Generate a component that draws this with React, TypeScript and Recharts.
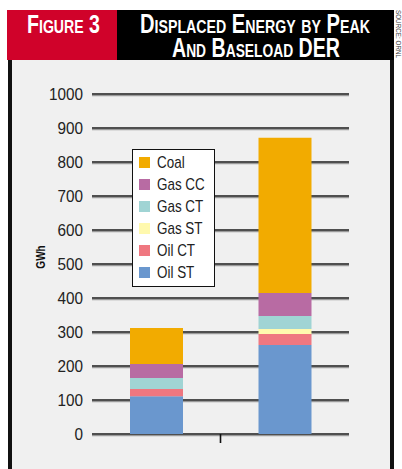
import React from "react";
import { BarChart, Bar, XAxis, YAxis, CartesianGrid, Legend } from "recharts";

const categories = ["Peak DER", "Baseload DER"];
const oilST = [111, 262];
const oilCT = [21, 32];
const gasST = [0, 15];
const gasCT = [33, 38];
const gasCC = [41, 68];
const coal = [106, 456];
const yTicks = [0, 100, 200, 300, 400, 500, 600, 700, 800, 900, 1000];

const series = [
  { key: "oilST", name: "Oil ST", values: oilST, color: "#6a97ce" },
  { key: "oilCT", name: "Oil CT", values: oilCT, color: "#ef7780" },
  { key: "gasST", name: "Gas ST", values: gasST, color: "#fff9ae" },
  { key: "gasCT", name: "Gas CT", values: gasCT, color: "#a0d4d4" },
  { key: "gasCC", name: "Gas CC", values: gasCC, color: "#b86ba3" },
  { key: "coal", name: "Coal", values: coal, color: "#f2ab00" },
];

const data = categories.map((category, i) => {
  const row: Record<string, string | number> = { category };
  series.forEach((s) => (row[s.key] = s.values[i]));
  return row;
});

const SANS = '"Liberation Sans", Arial, Helvetica, sans-serif';

function BoundaryTick(props: any) {
  const { x, y, payload, index } = props;
  if (index !== 0) return <g />;
  const bx = x + (payload.offset ?? 0);
  return <line x1={bx} x2={bx} y1={y} y2={y + 9} stroke="#111" strokeWidth={1.6} />;
}

// condensed look: Liberation Sans squeezed horizontally
function NarrowTick(props: any) {
  const { x, y, payload } = props;
  return (
    <text transform={`translate(${x},${y}) scale(0.9,1)`} textAnchor="end" dy="0.36em"
      fill="#222" fontSize={17} fontFamily={SANS}>
      {payload.value}
    </text>
  );
}

function AxisTitle(props: any) {
  const { viewBox } = props;
  const cx = viewBox.x + 40;
  const cy = viewBox.y + viewBox.height / 2 - 7;
  return (
    <text transform={`translate(${cx},${cy}) rotate(-90) scale(0.8,1)`} textAnchor="middle" dy="0.36em"
      fontFamily={SANS} fontWeight="bold" fontSize={12.5} fill="#111">
      GWh
    </text>
  );
}

function LegendBox(props: any) {
  const items = props.payload || [];
  return (
    <div
      style={{
        width: 83,
        height: 138,
        boxSizing: "border-box",
        background: "#fff",
        border: "1.5px solid #111",
        padding: "1.5px 0 0 6px",
        fontFamily: SANS,
        fontSize: 17,
        color: "#222",
      }}
    >
      {items.map((it: any) => (
        <div key={it.value} style={{ height: 22, display: "flex", alignItems: "center" }}>
          <span style={{ width: 11, height: 11, background: it.color, marginRight: 7, flex: "none" }} />
          <span style={{ display: "inline-block", transform: "scaleX(0.79)", transformOrigin: "left center", whiteSpace: "nowrap" }}>
            {it.value}
          </span>
        </div>
      ))}
    </div>
  );
}

export default function App() {
  return (
    <div style={{ position: "absolute", left: 0, top: 0, width: 402, height: 469, background: "#fff" }}>
      <style>{`.grid-shadow { transform: translateY(1.6px); }`}</style>
      <svg width={402} height={469} style={{ position: "absolute", left: 0, top: 0 }}>
        <rect x={12} y={60} width={378} height={409} fill="#f0f0f0" />
        <rect x={8} y={60} width={4} height={409} fill="#111" />
        <rect x={390} y={60} width={4} height={409} fill="#111" />
        <rect x={7} y={10} width={110} height={50} fill="#d0022a" />
        <rect x={117} y={10} width={277} height={50} fill="#000" />
        <text x={63.5} y={33} textAnchor="middle" textLength={73} lengthAdjust="spacingAndGlyphs"
          fill="#fff" fontWeight="bold" fontFamily={SANS} fontSize={25} style={{ fontVariant: "small-caps" }}>
          Figure 3
        </text>
        <text x={255} y={33} textAnchor="middle" textLength={230} lengthAdjust="spacingAndGlyphs"
          fill="#fff" fontWeight="bold" fontFamily={SANS} fontSize={27} style={{ fontVariant: "small-caps" }}>
          Displaced Energy by Peak
        </text>
        <text x={256} y={57} textAnchor="middle" textLength={168} lengthAdjust="spacingAndGlyphs"
          fill="#fff" fontWeight="bold" fontFamily={SANS} fontSize={27} style={{ fontVariant: "small-caps" }}>
          And Baseload DER
        </text>
        <text transform="translate(396,10) rotate(90)" fontSize={7} fill="#444" textLength={48}
          lengthAdjust="spacingAndGlyphs" fontFamily={SANS}>
          SOURCE: ORNL
        </text>
      </svg>
      <div style={{ position: "absolute", left: 0, top: 0 }}>
        <BarChart width={402} height={469} data={data} margin={{ top: 94, right: 53, bottom: 25, left: 0 }}>
          <CartesianGrid className="grid-shadow" vertical={false} stroke="#9a9a9a" strokeWidth={1.4} />
          <CartesianGrid vertical={false} stroke="#1a1a1a" strokeWidth={1.6} />
          <XAxis
            dataKey="category"
            height={10}
            axisLine={false}
            tickLine={false}
            tickSize={0}
            tickMargin={0}
            interval={0}
            tick={<BoundaryTick />}
          />
          <YAxis
            width={92}
            domain={[0, 1000]}
            ticks={yTicks}
            interval={0}
            axisLine={false}
            tickLine={false}
            tickSize={0}
            tickMargin={9}
            tick={<NarrowTick />}
            label={<AxisTitle />}
          />
          <Legend
            layout="vertical"
            align="center"
            verticalAlign="middle"
            content={<LegendBox />}
            wrapperStyle={{ left: 132, top: 149, width: 83 }}
          />
          {series.map((s) => (
            <Bar key={s.key} dataKey={s.key} name={s.name} stackId="a" fill={s.color} barSize={53}
              isAnimationActive={false} />
          ))}
        </BarChart>
      </div>
    </div>
  );
}
